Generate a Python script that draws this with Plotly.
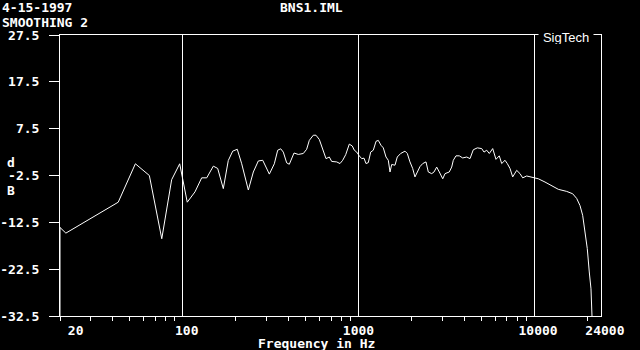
import plotly.graph_objects as go

# Frequency response (Hz, dB)
freq_hz = [20, 20, 21.6, 42.9, 53.7, 64.5, 75.9, 86.4, 96.0, 106.0, 117.3, 128.1, 136.8,
           149.2, 158.0, 170.0, 181.5, 192.3, 204.2, 216.4, 236.0, 252.0, 269.0, 285.0,
           310.8, 331.8, 346.8, 360.8, 373.3, 390.2, 403.8, 429.4, 454.4, 485.0, 507.0,
           524.8, 553.0, 572.8, 598.2, 625.4, 653.2, 682.0, 703.8, 751.4, 784.6, 812.8,
           845.4, 886.4, 921.8, 946.4, 976.6, 1010, 1043, 1075, 1103, 1137, 1173, 1214,
           1258, 1296, 1343, 1384, 1434, 1478, 1511, 1545, 1613, 1662, 1738, 1839, 1896,
           1963, 2034, 2096, 2162, 2238, 2320, 2422, 2496, 2610, 2690, 2786, 2884, 3016,
           3108, 3286, 3392, 3464, 3588, 3748, 3918, 4130, 4312, 4502, 4744, 5026, 5180,
           5366, 5552, 5804, 6060, 6328, 6530, 6820, 7028, 7282, 7544, 7950, 8302, 8600,
           9064, 9678, 10552, 11520, 12578, 13716, 15312, 16558, 17450, 18222, 18876,
           19454, 20050, 20584, 21048, 21326]
level_db = [-32.5, -13.6, -14.8, -8.2, 0.0, -2.5, -16.0, -3.4, 0.0, -8.2, -6.0, -3.0, -3.0,
            -0.5, -1.0, -5.3, 0.7, 2.7, 3.1, 0.0, -5.6, -1.75, 0.6, 0.75,
            -2.2, 0.0, 2.9, 3.2, 2.5, 0.2, -0.1, 2.3, 2.0, 2.2, 3.1,
            5.0, 6.1, 6.1, 5.2, 3.2, 1.1, 1.45, 0.5, 0.4, 0.05, 0.75,
            1.95, 4.2, 3.8, 2.9, 2.5, 1.7, 1.1, 1.2, 0.05, 0.25, 2.5, 2.9,
            4.8, 5.0, 3.95, 3.4, 1.45, 0.75, -1.75, -0.15, -0.3, 1.45, 2.2, 2.7, 2.2,
            0.4, -1.0, -2.8, -1.75, -0.6, 0.05, 0.4, -1.75, -2.1, -1.75, -0.7, -1.75, -3.2,
            -2.1, -1.75, -0.7, 0.75, 1.7, 1.7, 1.25, 1.45, 1.1, 3.0, 3.4, 3.25, 2.5,
            2.9, 2.2, 3.25, 0.95, 1.7, 0.05, 0.75, 0.05, -1.0, -2.8, -1.4, -2.1, -3.0,
            -2.6, -2.8, -3.2, -3.9, -4.75, -5.45, -5.9, -6.4, -7.4, -8.9, -11.0,
            -14.6, -18.1, -23.1, -26.7, -32.5]

x_tick_vals = [20, 100, 1000, 10000, 24000]
x_tick_text = ["\u00a0\u00a0\u00a0\u00a020", "\u00a0100", "1000", "\u00a010000", "\u00a024000"]
x_minor_vals = [20, 30, 40, 50, 60, 70, 80, 90,
                200, 300, 400, 500, 600, 700, 800, 900,
                2000, 3000, 4000, 5000, 6000, 7000, 8000, 9000, 20000]
y_tick_vals = [27.5, 17.5, 7.5, -2.5, -12.5, -22.5, -32.5]
y_tick_text = ["27.5", "17.5", "7.5", "-2.5", "-12.5", "-22.5", "-32.5"]

MONO = dict(family="DejaVu Sans Mono", size=13, color="white", weight="bold")

fig = go.Figure()
fig.add_trace(go.Scatter(x=freq_hz, y=level_db, mode="lines",
                         line=dict(color="white", width=1), hoverinfo="skip"))

fig.update_layout(
    width=640, height=350,
    margin=dict(l=60, r=39, t=35, b=34, autoexpand=False),
    paper_bgcolor="black", plot_bgcolor="black",
    showlegend=False,
    xaxis=dict(
        type="log", range=[1.30103, 4.38021], automargin=False,
        tickmode="array", tickvals=x_tick_vals, ticktext=x_tick_text,
        ticks="", showgrid=True, gridcolor="white", gridwidth=1,
        showline=True, linecolor="white", linewidth=1, mirror=True,
        tickfont=MONO, ticklabelstandoff=2, zeroline=False,
        minor=dict(tickvals=x_minor_vals, ticks="outside", ticklen=4,
                   tickcolor="white", tickwidth=1, showgrid=False),
    ),
    yaxis=dict(
        range=[-32.5, 27.5], automargin=False,
        tickmode="array", tickvals=y_tick_vals, ticktext=y_tick_text,
        ticks="outside", ticklen=10, tickcolor="white", tickwidth=1,
        showgrid=False, zeroline=False,
        showline=True, linecolor="white", linewidth=1, mirror=True,
        tickfont=MONO, ticklabelstandoff=7,
    ),
    annotations=[
        dict(text="4-15-1997", xref="paper", yref="paper", x=-60/541, y=1 + (35 - 7.5)/281,
             xanchor="left", yanchor="middle", showarrow=False, font=MONO),
        dict(text="SMOOTHING 2", xref="paper", yref="paper", x=-60/541, y=1 + (35 - 22)/281,
             xanchor="left", yanchor="middle", showarrow=False, font=MONO),
        dict(text="BNS1.IML", xref="paper", yref="paper", x=(311 - 60)/541, y=1 + (35 - 7.5)/281,
             xanchor="center", yanchor="middle", showarrow=False, font=MONO),
        dict(text="SigTech", xref="paper", yref="paper", x=(566 - 60)/541, y=1 - 2/281,
             xanchor="center", yanchor="middle", showarrow=False,
             font=dict(family="Liberation Sans", size=13, color="white"),
             bgcolor="black", width=54, height=14, borderpad=0),
        dict(text="d", xref="paper", yref="paper", x=-49/541, y=(316 - 162)/281,
             xanchor="center", yanchor="middle", showarrow=False, font=MONO),
        dict(text="B", xref="paper", yref="paper", x=-49/541, y=(316 - 190)/281,
             xanchor="center", yanchor="middle", showarrow=False, font=MONO),
        dict(text="Frequency in Hz", xref="paper", yref="paper", x=(316 - 60)/541,
             y=-(343.5 - 316)/281, xanchor="center", yanchor="middle", showarrow=False,
             font=MONO),
    ],
)

fig.write_html("out.html", config={"displayModeBar": False},
               post_script="document.body.style.margin='0';document.body.style.background='black';")
